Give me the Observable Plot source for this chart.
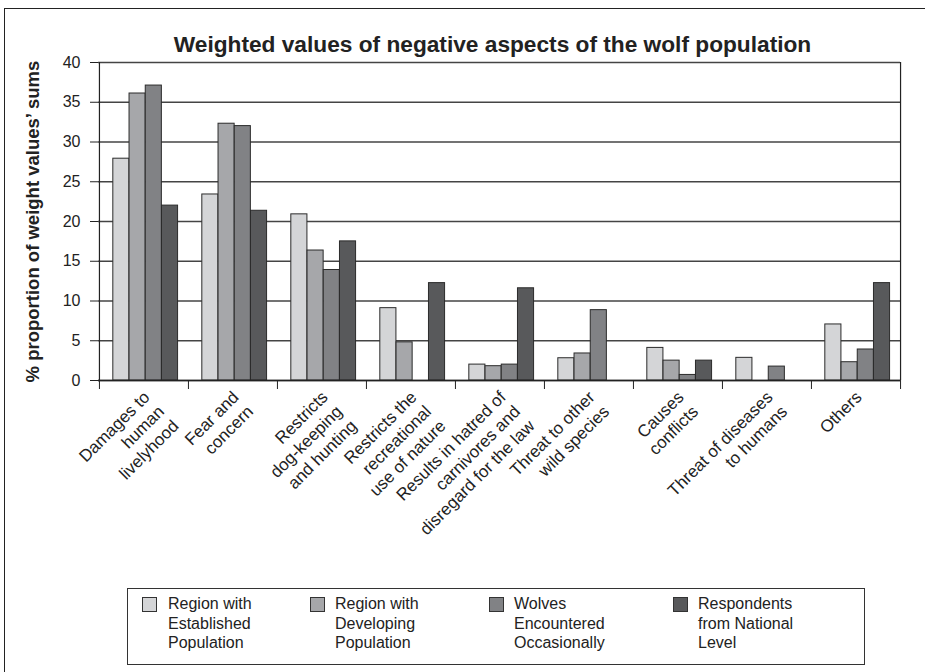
<!DOCTYPE html>
<html><head><meta charset="utf-8">
<script src="https://cdn.jsdelivr.net/npm/d3@7"></script>
<script src="https://cdn.jsdelivr.net/npm/@observablehq/plot@0.6"></script>
<style>
body{margin:0;background:#fff;font-family:"Liberation Sans",Arial,sans-serif;color:#222;}
#wrap{position:relative;width:925px;height:672px;overflow:hidden;background:#fff;}
#border{position:absolute;left:4px;top:8px;width:1000px;height:1000px;border-top:1px solid #222;border-left:1px solid #222;}
#chart{position:absolute;left:0;top:0;}
#title{position:absolute;left:60px;top:31px;width:865px;text-align:center;font-weight:bold;font-size:22.7px;line-height:26px;white-space:nowrap;}
#legend{position:absolute;left:127px;top:588px;width:738px;height:77px;border:1px solid #333;box-sizing:border-box;}
.sw{position:absolute;width:15px;height:15px;box-sizing:border-box;border:1px solid #333;}
.lt{position:absolute;font-size:16px;line-height:19.5px;white-space:nowrap;color:#222;}
</style></head>
<body>
<div id="wrap">
  <div id="border"></div>
  <div id="chart"></div>
  <div id="title"></div>
  <div id="legend"></div>
</div>
<script>
const titleText = "Weighted values of negative aspects of the wolf population";
const yTitle = "% proportion of weight values\u2019 sums";
const categories = ["Damages", "Fear", "Dog", "Recreation", "Hatred", "Species", "Conflicts", "Diseases", "Others"];
const categoryLabels = [
  "Damages to\nhuman\nlivelyhood",
  "Fear and\nconcern",
  "Restricts\ndog-keeping\nand hunting",
  "Restricts the\nrecreational\nuse of nature",
  "Results in hatred of\ncarnivores and\ndisregard for the law",
  "Threat to other\nwild species",
  "Causes\nconflicts",
  "Threat of diseases\nto humans",
  "Others"
];
const seriesNames = [
  "Region with\nEstablished\nPopulation",
  "Region with\nDeveloping\nPopulation",
  "Wolves\nEncountered\nOccasionally",
  "Respondents\nfrom National\nLevel"
];
const established = [27.9, 23.4, 20.9, 9.1, 2.0, 2.8, 4.1, 2.85, 7.05];
const developing  = [36.1, 32.3, 16.35, 4.8, 1.8, 3.4, 2.5, 0, 2.3];
const occasional  = [37.1, 32.0, 13.9, 0, 2.0, 8.85, 0.7, 1.75, 3.9];
const national    = [22.0, 21.35, 17.5, 12.25, 11.6, 0, 2.5, 0, 12.25];
const yTicks = [0, 5, 10, 15, 20, 25, 30, 35, 40];

const seriesValues = [established, developing, occasional, national];
const colors = ["#d4d5d7", "#a6a7aa", "#818285", "#58595b"];

const W = 925, H = 570, ML = 98, MR = 25, MT = 62, MB = 190;
const step = (W - ML - MR) / categories.length;
const bw = step * 0.182;
const gap = step - 4 * bw;
const padL = gap * 0.57, padR = gap * 0.43;

const rows = seriesValues.map(vals => categories.map((c, j) => ({cat: c, v: vals[j]})).filter(d => d.v > 0));
const last = categories[categories.length - 1];

const chart = Plot.plot({
  width: W, height: H,
  marginLeft: ML, marginRight: MR, marginTop: MT, marginBottom: MB,
  style: {fontFamily: "Liberation Sans, Arial, sans-serif", fontSize: "16px", color: "#222", background: "transparent", overflow: "visible"},
  x: {domain: categories, padding: 0, axis: null},
  y: {domain: [0, 40], axis: null},
  marks: [
    Plot.ruleY(yTicks, {stroke: "#444", strokeWidth: 1.3}),
    ...rows.map((r, i) => Plot.barY(r, {
      x: "cat", y: "v", fill: colors[i], stroke: "#2b2b2b", strokeWidth: 1,
      insetLeft: padL + i * bw, insetRight: padR + (3 - i) * bw
    })),
    Plot.ruleY([0], {stroke: "#222", strokeWidth: 1.3}),
    Plot.ruleX([categories[0]], {x: d => d, y1: 0, y2: 40, dx: -step / 2, stroke: "#222", strokeWidth: 1.2}),
    Plot.ruleX([last], {x: d => d, y1: 0, y2: 40, dx: step / 2, stroke: "#222", strokeWidth: 1.2}),
    Plot.ruleX(categories, {x: d => d, y1: 0, y2: 0, insetBottom: -9, dx: -step / 2, stroke: "#222"}),
    Plot.ruleX([last], {x: d => d, y1: 0, y2: 0, insetBottom: -9, dx: step / 2, stroke: "#222"}),
    Plot.axisY(yTicks, {tickSize: 8, tickPadding: 10, fontSize: 16, label: null}),
    Plot.text(categories, {
      x: d => d, y: () => 0, text: (d, i) => categoryLabels[i],
      rotate: -45, textAnchor: "end", lineAnchor: "top", lineHeight: 1.2,
      fontSize: 17, dx: -3.5, dy: 7.5, fill: "#222"
    }),
    Plot.text([yTitle], {frameAnchor: "left", rotate: -90, textAnchor: "middle", dx: -65, fontSize: 18.5, fontWeight: "bold", fill: "#222"})
  ]
});
document.getElementById("chart").append(chart);

document.getElementById("title").textContent = titleText;

const legend = document.getElementById("legend");
const swatchX = [14, 182, 361, 545];
const textX = [40, 207, 386, 570];
seriesNames.forEach((name, i) => {
  const sw = document.createElement("div");
  sw.className = "sw";
  sw.style.left = swatchX[i] + "px";
  sw.style.top = "8px";
  sw.style.background = colors[i];
  legend.append(sw);
  const tx = document.createElement("div");
  tx.className = "lt";
  tx.style.left = textX[i] + "px";
  tx.style.top = "5px";
  tx.innerHTML = name.split("\n").join("<br>");
  legend.append(tx);
});
</script>
</body></html>
